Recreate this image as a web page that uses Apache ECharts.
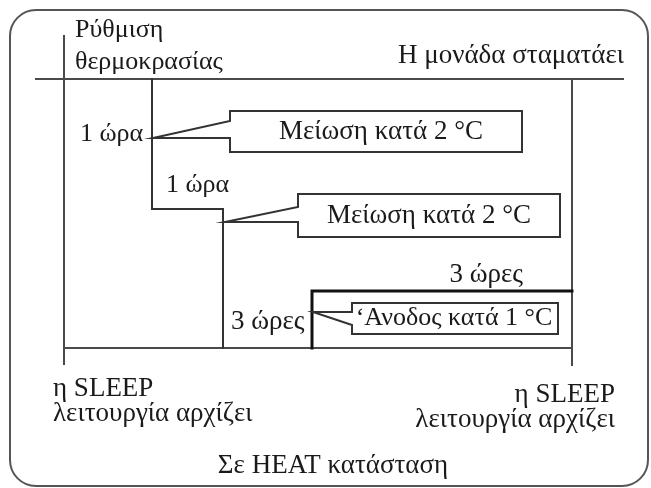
<!DOCTYPE html>
<html>
<head>
<meta charset="utf-8">
<script src="https://cdn.jsdelivr.net/npm/echarts@6/dist/echarts.min.js"></script>
<style>
html, body { margin: 0; padding: 0; background: #fff; }
#main { width: 651px; height: 488px; }
</style>
</head>
<body>
<div id="main"></div>
<script>
// diagram units: the axes span the whole drawing, 0..651 by 0..488
var frameBox = [[10, 10], [648, 486]];

// base lines of the diagram
var topLine = [[36, 79], [623, 79]];
var startLine = [[64, 36], [64, 364]];
var bottomLine = [[64, 348], [572, 348]];
var stopLine = [[572, 79], [572, 365]];

// temperature profile (thin) and the rise step (thick)
var dropProfile = [[152, 79], [152, 209], [223, 209], [223, 348]];
var riseProfile = [[312, 348], [312, 291], [572, 291]];

// callouts
var calloutTexts = ['Μείωση κατά 2 °C', 'Μείωση κατά 2 °C', '‘Ανοδος κατά 1 °C'];
var calloutTips = [[153, 138], [225, 222], [313, 312]];
var calloutBoxes = [[230, 111, 522, 152], [298, 194, 560, 237], [352, 303, 558, 334]];
var calloutNotches = [[121, 138], [207, 222], [312, 325]];
// text placement inside each box: [x shift, font size]
var calloutTextPos = [[5, 27], [0, 27], [-1, 26]];

// free labels
var labelTexts = [
  'Ρύθμιση', 'θερμοκρασίας', 'Η μονάδα σταματάει',
  '1 ώρα', '1 ώρα', '3 ώρες', '3 ώρες',
  'η SLEEP', 'λειτουργία αρχίζει', 'η SLEEP', 'λειτουργία αρχίζει',
  'Σε HEAT κατάσταση'
];
// where each label sits: [x, y, align, font size]
var labelPos = [
  [75, 30, 'left', 26], [75, 62, 'left', 26], [624, 56, 'right', 27],
  [80, 134, 'left', 26], [166, 185, 'left', 26], [231, 322, 'left', 27], [523, 275, 'right', 27],
  [53, 389, 'left', 27], [53, 414, 'left', 27], [615, 395, 'right', 27], [615, 420, 'right', 27],
  [333, 466, 'center', 27]
];

var SERIF = '"Liberation Serif", "DejaVu Serif", serif';
var LINE = '#4a4a4a';

var chart = echarts.init(document.getElementById('main'), null, { renderer: 'canvas' });

function lineSeries(data, width, color) {
  return {
    type: 'line',
    data: data,
    symbol: 'none',
    silent: true,
    animation: false,
    lineStyle: { color: color, width: width, cap: 'square', join: 'miter' },
    z: 3
  };
}

var calloutData = calloutTexts.map(function (t, i) {
  var b = calloutBoxes[i];
  return [calloutTips[i][0], calloutTips[i][1], b[0], b[1], b[2], b[3],
    calloutNotches[i][0], calloutNotches[i][1]];
});

var labelData = labelTexts.map(function (t, i) {
  return [labelPos[i][0], labelPos[i][1]];
});

var series = [
  {
    type: 'custom',
    silent: true,
    animation: false,
    data: [[frameBox[0][0], frameBox[0][1], frameBox[1][0], frameBox[1][1]]],
    renderItem: function (params, api) {
      var p0 = api.coord([api.value(0), api.value(1)]);
      var p1 = api.coord([api.value(2), api.value(3)]);
      return {
        type: 'rect',
        shape: { x: p0[0], y: p0[1], width: p1[0] - p0[0], height: p1[1] - p0[1], r: 26 },
        style: { fill: 'none', stroke: '#555', lineWidth: 2 }
      };
    },
    z: 1
  },
  lineSeries(topLine, 2, LINE),
  lineSeries(startLine, 2, LINE),
  lineSeries(bottomLine, 2, LINE),
  lineSeries(stopLine, 2, LINE),
  lineSeries(dropProfile, 2, '#333'),
  lineSeries(riseProfile, 3, '#111'),
  {
    type: 'custom',
    silent: true,
    animation: false,
    data: calloutData,
    renderItem: function (params, api) {
      var tip = api.coord([api.value(0), api.value(1)]);
      var a = api.coord([api.value(2), api.value(3)]);
      var c = api.coord([api.value(4), api.value(5)]);
      var n1 = api.coord([api.value(2), api.value(6)]);
      var n2 = api.coord([api.value(2), api.value(7)]);
      var pts = [[a[0], a[1]], [c[0], a[1]], [c[0], c[1]], [a[0], c[1]], n2, tip, n1];
      var tp = calloutTextPos[params.dataIndex];
      return {
        type: 'group',
        children: [
          {
            type: 'polygon',
            shape: { points: pts },
            style: { fill: '#fff', stroke: '#333', lineWidth: 2 }
          },
          {
            type: 'text',
            style: {
              text: calloutTexts[params.dataIndex],
              x: (a[0] + c[0]) / 2 + tp[0],
              y: (a[1] + c[1]) / 2,
              align: 'center',
              verticalAlign: 'middle',
              font: tp[1] + 'px ' + SERIF,
              fill: '#1a1a1a'
            }
          }
        ]
      };
    },
    z: 5
  },
  {
    type: 'custom',
    silent: true,
    animation: false,
    data: labelData,
    renderItem: function (params, api) {
      var p = api.coord([api.value(0), api.value(1)]);
      var pos = labelPos[params.dataIndex];
      return {
        type: 'text',
        style: {
          text: labelTexts[params.dataIndex],
          x: p[0],
          y: p[1],
          align: pos[2],
          verticalAlign: 'middle',
          font: pos[3] + 'px ' + SERIF,
          fill: '#1a1a1a'
        }
      };
    },
    z: 6
  }
];

chart.setOption({
  backgroundColor: '#fff',
  animation: false,
  grid: { left: 0, right: 0, top: 0, bottom: 0 },
  xAxis: { type: 'value', min: 0, max: 651, show: false },
  yAxis: { type: 'value', min: 0, max: 488, inverse: true, show: false },
  series: series
});
</script>
</body>
</html>
